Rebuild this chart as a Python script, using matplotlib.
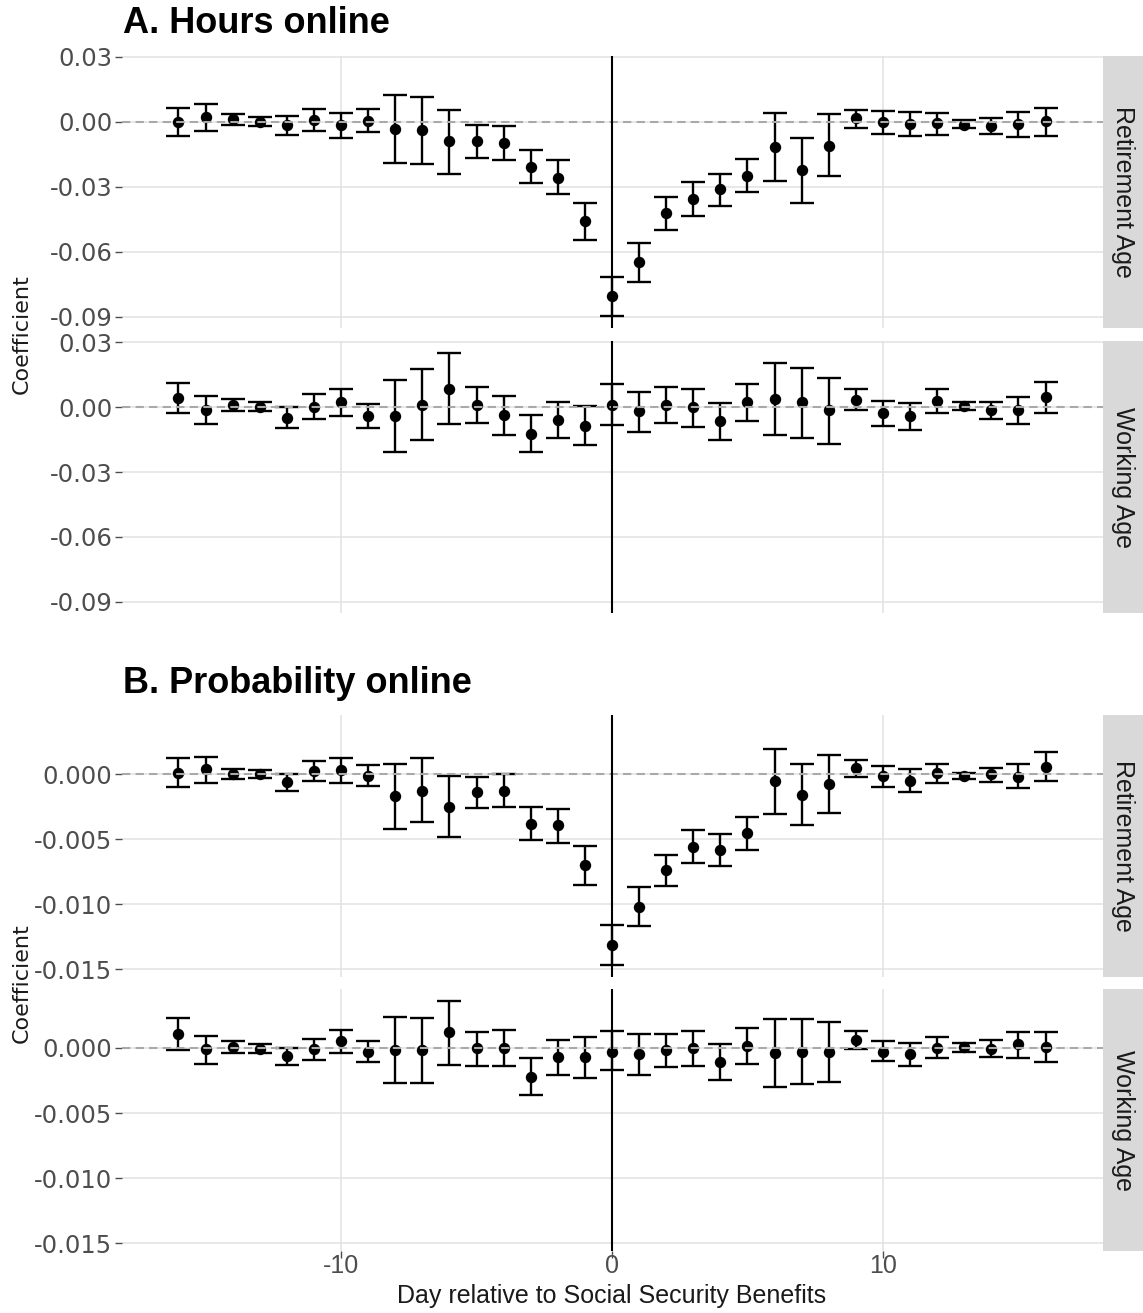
import numpy as np
import matplotlib
matplotlib.use("Agg")
import matplotlib.pyplot as plt

days = list(range(-16, 17))

# A. Hours online — Retirement Age
hours_ret_est = [0.0000, 0.0022, 0.0012, 0.0000, -0.0015, 0.0011, -0.0015, 0.0006,
                 -0.0034, -0.0038, -0.0089, -0.0089, -0.0097, -0.0208, -0.0257, -0.0458,
                 -0.0804, -0.0649, -0.0423, -0.0355, -0.0312, -0.0248, -0.0115, -0.0221,
                 -0.0109, 0.0017, -0.0002, -0.0009, -0.0005, -0.0012, -0.0020, -0.0011, 0.0002]
hours_ret_lo = [-0.0066, -0.0043, -0.0014, -0.0018, -0.0060, -0.0043, -0.0072, -0.0048,
                -0.0192, -0.0194, -0.0240, -0.0166, -0.0175, -0.0283, -0.0334, -0.0544,
                -0.0897, -0.0741, -0.0500, -0.0434, -0.0388, -0.0325, -0.0272, -0.0374,
                -0.0251, -0.0029, -0.0054, -0.0066, -0.0060, -0.0028, -0.0057, -0.0069, -0.0066]
hours_ret_hi = [0.0065, 0.0085, 0.0038, 0.0023, 0.0026, 0.0062, 0.0043, 0.0058,
                0.0126, 0.0117, 0.0057, -0.0015, -0.0020, -0.0132, -0.0178, -0.0374,
                -0.0715, -0.0560, -0.0345, -0.0277, -0.0240, -0.0172, 0.0043, -0.0072,
                0.0035, 0.0055, 0.0049, 0.0045, 0.0043, 0.0011, 0.0017, 0.0045, 0.0066]

# A. Hours online — Working Age
hours_work_est = [0.0042, -0.0015, 0.0012, 0.0003, -0.0048, 0.0003, 0.0023, -0.0040,
                  -0.0040, 0.0012, 0.0086, 0.0009, -0.0037, -0.0122, -0.0060, -0.0085,
                  0.0012, -0.0020, 0.0012, 0.0000, -0.0066, 0.0023, 0.0038, 0.0022,
                  -0.0015, 0.0032, -0.0025, -0.0043, 0.0029, 0.0005, -0.0015, -0.0014, 0.0045]
hours_work_lo = [-0.0029, -0.0080, -0.0017, -0.0018, -0.0095, -0.0055, -0.0043, -0.0098,
                 -0.0209, -0.0152, -0.0077, -0.0075, -0.0129, -0.0208, -0.0143, -0.0175,
                 -0.0082, -0.0115, -0.0072, -0.0092, -0.0151, -0.0062, -0.0128, -0.0143,
                 -0.0171, -0.0015, -0.0085, -0.0106, -0.0026, -0.0014, -0.0054, -0.0078, -0.0029]
hours_work_hi = [0.0111, 0.0052, 0.0038, 0.0026, 0.0000, 0.0060, 0.0085, 0.0015,
                 0.0126, 0.0178, 0.0249, 0.0092, 0.0052, -0.0038, 0.0023, 0.0006,
                 0.0106, 0.0072, 0.0092, 0.0086, 0.0018, 0.0106, 0.0206, 0.0181,
                 0.0137, 0.0082, 0.0029, 0.0020, 0.0082, 0.0025, 0.0025, 0.0049, 0.0118]

# B. Probability online — Retirement Age
prob_ret_est = [0.00010, 0.00036, 0.00000, 0.00000, -0.00064, 0.00026, 0.00030, -0.00013,
                -0.00170, -0.00130, -0.00250, -0.00140, -0.00130, -0.00380, -0.00390, -0.00700,
                -0.01310, -0.01020, -0.00740, -0.00560, -0.00580, -0.00450, -0.00054, -0.00160,
                -0.00080, 0.00046, -0.00018, -0.00050, 0.00010, -0.00015, 0.00000, -0.00020, 0.00056]
prob_ret_lo = [-0.00100, -0.00070, -0.00040, -0.00030, -0.00130, -0.00050, -0.00070, -0.00095,
               -0.00420, -0.00370, -0.00480, -0.00260, -0.00250, -0.00510, -0.00530, -0.00850,
               -0.01470, -0.01170, -0.00860, -0.00680, -0.00710, -0.00580, -0.00310, -0.00390,
               -0.00300, -0.00026, -0.00100, -0.00140, -0.00070, -0.00040, -0.00060, -0.00110, -0.00050]
prob_ret_hi = [0.00120, 0.00130, 0.00036, 0.00030, 0.00000, 0.00100, 0.00120, 0.00070,
               0.00080, 0.00120, -0.00013, -0.00026, 0.00000, -0.00250, -0.00270, -0.00550,
               -0.01160, -0.00870, -0.00620, -0.00430, -0.00460, -0.00330, 0.00190, 0.00080,
               0.00150, 0.00110, 0.00060, 0.00040, 0.00080, 0.00010, 0.00050, 0.00080, 0.00170]

# B. Probability online — Working Age
prob_work_est = [0.00110, -0.00010, 0.00010, -0.00010, -0.00060, -0.00010, 0.00050, -0.00030,
                 -0.00015, -0.00020, 0.00120, 0.00000, 0.00000, -0.00220, -0.00070, -0.00070,
                 -0.00030, -0.00050, -0.00020, 0.00000, -0.00110, 0.00015, -0.00040, -0.00030,
                 -0.00030, 0.00060, -0.00030, -0.00050, 0.00000, 0.00005, -0.00005, 0.00030, 0.00010]
prob_work_lo = [-0.00015, -0.00120, -0.00040, -0.00040, -0.00130, -0.00090, -0.00040, -0.00110,
                -0.00270, -0.00270, -0.00130, -0.00140, -0.00140, -0.00360, -0.00210, -0.00230,
                -0.00170, -0.00210, -0.00150, -0.00140, -0.00250, -0.00120, -0.00300, -0.00280,
                -0.00260, -0.00010, -0.00100, -0.00140, -0.00080, -0.00030, -0.00070, -0.00080, -0.00110]
prob_work_hi = [0.00230, 0.00090, 0.00050, 0.00030, 0.00000, 0.00070, 0.00140, 0.00050,
                0.00240, 0.00230, 0.00360, 0.00120, 0.00140, -0.00080, 0.00060, 0.00080,
                0.00130, 0.00110, 0.00110, 0.00130, 0.00030, 0.00150, 0.00220, 0.00220,
                0.00200, 0.00130, 0.00050, 0.00040, 0.00080, 0.00040, 0.00060, 0.00120, 0.00120]

hours_ticks = [0.03, 0.0, -0.03, -0.06, -0.09]
hours_labels = ["0.03", "0.00", "-0.03", "-0.06", "-0.09"]
prob_ticks = [0.0, -0.005, -0.01, -0.015]
prob_labels = ["0.000", "-0.005", "-0.010", "-0.015"]
x_ticks = [-10, 0, 10]
x_labels = ["-10", "0", "10"]

W, H = 1143, 1313
fig = plt.figure(figsize=(W / 100, H / 100), dpi=100)
fig.patch.set_facecolor("white")

PX_L, PX_R = 121.5, 1102.5
STRIP_W = 40.5


def add_px_axes(x0, y0, x1, y1):
    return fig.add_axes([x0 / W, 1 - y1 / H, (x1 - x0) / W, (y1 - y0) / H])


def draw_panel(y0, y1, est, lo, hi, ylim, yticks, ylabels, strip_text, show_x):
    ax = add_px_axes(PX_L, y0, PX_R, y1)
    est = np.array(est)
    yerr = [est - np.array(lo), np.array(hi) - est]
    ax.errorbar(days, est, yerr=yerr, fmt="o", color="black", ms=7.2,
                elinewidth=1.7, capsize=8.8, capthick=1.7, zorder=3)
    ax.axhline(0, color="#A9A9A9", ls=(0, (4, 2.5)), lw=1.5, zorder=4)
    ax.axvline(0, color="black", lw=1.5, zorder=4)
    ax.set_xlim(-18.1, 18.1)
    ax.set_ylim(*ylim)
    ax.set_yticks(yticks, ylabels)
    ax.set_xticks(x_ticks, x_labels if show_x else [""] * 3)
    ax.grid(color="#E2E2E2", lw=1.1)
    ax.set_axisbelow(True)
    for s in ax.spines.values():
        s.set_visible(False)
    ax.tick_params(axis="y", length=5, width=1, color="#4D4D4D", labelcolor="#4D4D4D",
                   labelsize=17.5, pad=1.5)
    for t in ax.get_yticklabels():
        t.set_fontfamily("DejaVu Sans")
    if show_x:
        ax.tick_params(axis="x", length=5, width=1, color="#4D4D4D", labelcolor="#4D4D4D",
                       labelsize=18, pad=-3)
        for t in ax.get_xticklabels():
            t.set_fontfamily("Liberation Sans")
    else:
        ax.tick_params(axis="x", length=0, labelbottom=False)

    sax = add_px_axes(PX_R, y0, PX_R + STRIP_W, y1)
    sax.set_facecolor("#D9D9D9")
    sax.set_xticks([])
    sax.set_yticks([])
    for s in sax.spines.values():
        s.set_visible(False)
    sax.text(0.5, 0.5, strip_text, rotation=-90, ha="center", va="center",
             fontsize=18, color="#1A1A1A", family="Liberation Sans",
             transform=sax.transAxes)
    return ax


hours_ylim = (-0.0954, 0.0306)
prob_ylim = (-0.01562, 0.00452)

draw_panel(55.7, 328.4, hours_ret_est, hours_ret_lo, hours_ret_hi, hours_ylim,
           hours_ticks, hours_labels, "Retirement Age", False)
draw_panel(341.0, 613.4, hours_work_est, hours_work_lo, hours_work_hi, hours_ylim,
           hours_ticks, hours_labels, "Working Age", False)
draw_panel(715.2, 977.4, prob_ret_est, prob_ret_lo, prob_ret_hi, prob_ylim,
           prob_ticks, prob_labels, "Retirement Age", False)
draw_panel(989.0, 1251.4, prob_work_est, prob_work_lo, prob_work_hi, prob_ylim,
           prob_ticks, prob_labels, "Working Age", True)

# titles and axis labels
fig.text(123 / W, 1 - 33 / H, "A. Hours online", fontsize=26, fontweight="bold",
         family="Liberation Sans", ha="left", va="baseline")
fig.text(123 / W, 1 - 693 / H, "B. Probability online", fontsize=26, fontweight="bold",
         family="Liberation Sans", ha="left", va="baseline")
fig.text(22 / W, 1 - 334.5 / H, "Coefficient", rotation=90, fontsize=16,
         family="DejaVu Sans", ha="center", va="center", color="#1A1A1A")
fig.text(22 / W, 1 - 983 / H, "Coefficient", rotation=90, fontsize=16,
         family="DejaVu Sans", ha="center", va="center", color="#1A1A1A")
fig.text(612 / W, 1 - 1296 / H, "Day relative to Social Security Benefits", fontsize=18,
         family="Liberation Sans", ha="center", va="center", color="#1A1A1A")

fig.savefig("out.png", dpi=100)
